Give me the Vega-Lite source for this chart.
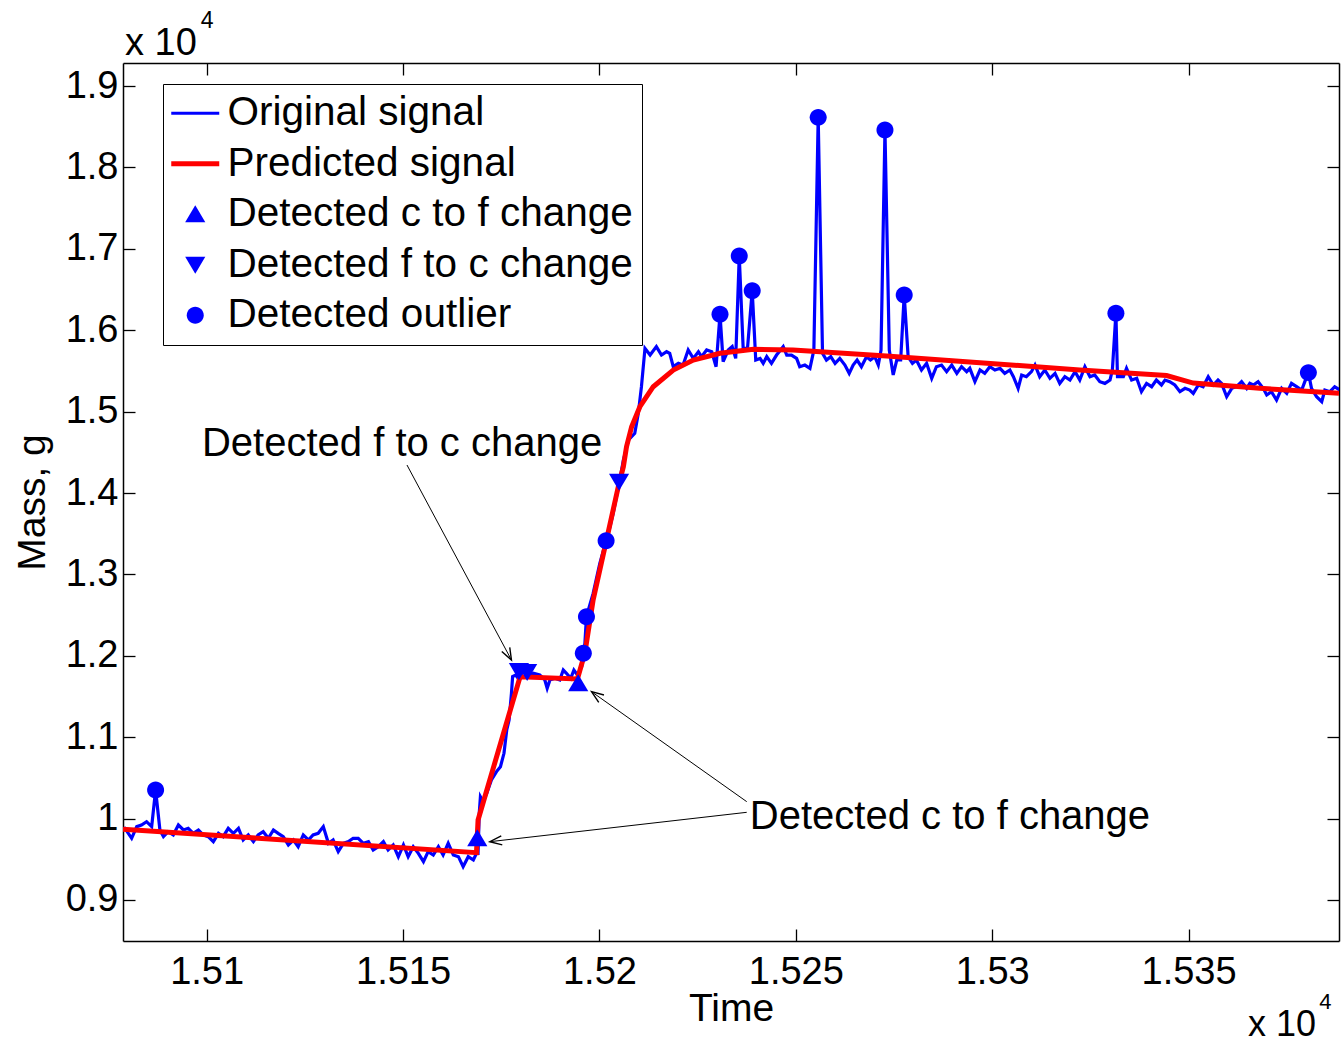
{
  "$schema": "https://vega.github.io/schema/vega-lite/v6.json",
  "width": 1216,
  "height": 878,
  "autosize": {"type": "none"},
  "padding": {"left": 123, "top": 63, "right": 4, "bottom": 104},
  "background": "white",
  "config": {
    "view": {"stroke": null},
    "font": "Liberation Sans",
    "axis": {
      "grid": false,
      "domainColor": "black",
      "domainWidth": 1.5,
      "tickColor": "black",
      "tickWidth": 1.3,
      "tickSize": -12,
      "labelFont": "Liberation Sans",
      "labelFontSize": 38,
      "labelColor": "black",
      "titleFont": "Liberation Sans",
      "titleFontSize": 39,
      "titleColor": "black",
      "titleFontWeight": "normal",
      "labelFlush": false,
      "labelOverlap": false
    },
    "legend": {
      "orient": "none", "legendX": 40, "legendY": 21, "title": null, "direction": "vertical",
      "fillColor": "white", "strokeColor": "black", "padding": 9,
      "labelFont": "Liberation Sans", "labelFontSize": 40.5, "labelColor": "black", "labelLimit": 1000,
      "labelOffset": 12, "symbolOffset": 3, "symbolSize": 2304, "rowPadding": 9.5
    }
  },
  "datasets": {
    "orig": [
      {"t": 15078.0, "m": 9860}, {"t": 15079.2, "m": 9880}, {"t": 15080.9, "m": 9758}, {"t": 15082.2, "m": 9901},
      {"t": 15083.4, "m": 9921}, {"t": 15084.7, "m": 9962}, {"t": 15086.0, "m": 9901}, {"t": 15087.0, "m": 10351},
      {"t": 15088.1, "m": 9860}, {"t": 15089.0, "m": 9778}, {"t": 15090.2, "m": 9839}, {"t": 15091.5, "m": 9799},
      {"t": 15092.8, "m": 9921}, {"t": 15094.1, "m": 9860}, {"t": 15095.3, "m": 9880}, {"t": 15096.6, "m": 9819},
      {"t": 15097.9, "m": 9860}, {"t": 15099.1, "m": 9799}, {"t": 15100.4, "m": 9778}, {"t": 15101.7, "m": 9717},
      {"t": 15103.0, "m": 9819}, {"t": 15104.2, "m": 9778}, {"t": 15105.5, "m": 9880}, {"t": 15106.8, "m": 9819},
      {"t": 15108.1, "m": 9880}, {"t": 15109.3, "m": 9737}, {"t": 15110.6, "m": 9799}, {"t": 15111.9, "m": 9717},
      {"t": 15113.1, "m": 9799}, {"t": 15114.4, "m": 9839}, {"t": 15115.7, "m": 9758}, {"t": 15117.0, "m": 9860},
      {"t": 15118.2, "m": 9819}, {"t": 15119.5, "m": 9778}, {"t": 15120.8, "m": 9676}, {"t": 15122.1, "m": 9737},
      {"t": 15123.3, "m": 9655}, {"t": 15124.6, "m": 9799}, {"t": 15125.9, "m": 9737}, {"t": 15127.1, "m": 9799},
      {"t": 15128.4, "m": 9819}, {"t": 15129.7, "m": 9901}, {"t": 15131.0, "m": 9696}, {"t": 15132.2, "m": 9737},
      {"t": 15133.5, "m": 9594}, {"t": 15134.8, "m": 9696}, {"t": 15136.1, "m": 9717}, {"t": 15137.3, "m": 9758},
      {"t": 15138.6, "m": 9758}, {"t": 15139.9, "m": 9696}, {"t": 15141.2, "m": 9717}, {"t": 15142.4, "m": 9614},
      {"t": 15143.7, "m": 9655}, {"t": 15145.0, "m": 9717}, {"t": 15146.2, "m": 9614}, {"t": 15147.5, "m": 9676},
      {"t": 15148.8, "m": 9532}, {"t": 15150.1, "m": 9676}, {"t": 15151.3, "m": 9532}, {"t": 15152.6, "m": 9655},
      {"t": 15153.9, "m": 9573}, {"t": 15155.2, "m": 9471}, {"t": 15156.4, "m": 9594}, {"t": 15157.7, "m": 9553},
      {"t": 15159.0, "m": 9655}, {"t": 15160.2, "m": 9553}, {"t": 15161.5, "m": 9696}, {"t": 15162.8, "m": 9553},
      {"t": 15164.1, "m": 9532}, {"t": 15165.3, "m": 9409}, {"t": 15166.6, "m": 9532}, {"t": 15167.9, "m": 9491},
      {"t": 15168.7, "m": 9573}, {"t": 15169.1, "m": 9573}, {"t": 15169.4, "m": 10065}, {"t": 15169.7, "m": 10269},
      {"t": 15170.4, "m": 10208}, {"t": 15171.3, "m": 10310}, {"t": 15172.5, "m": 10474}, {"t": 15173.8, "m": 10577},
      {"t": 15174.8, "m": 10638}, {"t": 15175.7, "m": 10802}, {"t": 15176.4, "m": 11089}, {"t": 15177.0, "m": 11211},
      {"t": 15177.6, "m": 11539}, {"t": 15177.9, "m": 11744}, {"t": 15178.7, "m": 11764}, {"t": 15179.6, "m": 11703},
      {"t": 15180.6, "m": 11825}, {"t": 15181.9, "m": 11744}, {"t": 15183.2, "m": 11785}, {"t": 15184.8, "m": 11764},
      {"t": 15186.1, "m": 11703}, {"t": 15186.7, "m": 11600}, {"t": 15187.4, "m": 11703}, {"t": 15188.7, "m": 11723},
      {"t": 15189.9, "m": 11703}, {"t": 15190.8, "m": 11825}, {"t": 15191.6, "m": 11785}, {"t": 15192.7, "m": 11723},
      {"t": 15193.5, "m": 11825}, {"t": 15194.4, "m": 11764}, {"t": 15195.5, "m": 11867}, {"t": 15195.9, "m": 12030},
      {"t": 15196.3, "m": 12153}, {"t": 15196.7, "m": 12481}, {"t": 15198.4, "m": 12767}, {"t": 15200.1, "m": 13136},
      {"t": 15201.7, "m": 13414}, {"t": 15202.7, "m": 13586}, {"t": 15203.5, "m": 13750}, {"t": 15205.1, "m": 14139},
      {"t": 15206.1, "m": 14405}, {"t": 15207.4, "m": 14651}, {"t": 15209.0, "m": 14733}, {"t": 15209.9, "m": 14979},
      {"t": 15210.7, "m": 15306}, {"t": 15211.6, "m": 15777}, {"t": 15212.9, "m": 15695}, {"t": 15214.5, "m": 15798},
      {"t": 15215.8, "m": 15695}, {"t": 15217.1, "m": 15736}, {"t": 15217.9, "m": 15716}, {"t": 15218.8, "m": 15552},
      {"t": 15220.1, "m": 15593}, {"t": 15221.3, "m": 15572}, {"t": 15222.6, "m": 15757}, {"t": 15223.9, "m": 15654},
      {"t": 15225.2, "m": 15736}, {"t": 15226.0, "m": 15675}, {"t": 15227.3, "m": 15757}, {"t": 15228.6, "m": 15736},
      {"t": 15229.7, "m": 15552}, {"t": 15230.7, "m": 16195}, {"t": 15231.5, "m": 15613}, {"t": 15232.8, "m": 15757},
      {"t": 15233.8, "m": 15798}, {"t": 15234.7, "m": 15654}, {"t": 15235.6, "m": 16912}, {"t": 15236.6, "m": 15777},
      {"t": 15237.7, "m": 15777}, {"t": 15238.9, "m": 16486}, {"t": 15239.8, "m": 15634}, {"t": 15240.9, "m": 15654},
      {"t": 15241.7, "m": 15593}, {"t": 15242.6, "m": 15675}, {"t": 15243.8, "m": 15593}, {"t": 15245.1, "m": 15695},
      {"t": 15246.8, "m": 15798}, {"t": 15247.7, "m": 15695}, {"t": 15248.9, "m": 15695}, {"t": 15250.2, "m": 15654},
      {"t": 15251.0, "m": 15552}, {"t": 15252.3, "m": 15572}, {"t": 15253.6, "m": 15531}, {"t": 15254.6, "m": 15757},
      {"t": 15255.7, "m": 18615}, {"t": 15256.8, "m": 15716}, {"t": 15257.8, "m": 15634}, {"t": 15258.9, "m": 15675},
      {"t": 15260.0, "m": 15593}, {"t": 15261.2, "m": 15654}, {"t": 15262.5, "m": 15572}, {"t": 15263.6, "m": 15470},
      {"t": 15264.6, "m": 15572}, {"t": 15265.6, "m": 15634}, {"t": 15266.7, "m": 15552}, {"t": 15268.0, "m": 15675},
      {"t": 15269.0, "m": 15634}, {"t": 15270.1, "m": 15675}, {"t": 15271.0, "m": 15572}, {"t": 15271.7, "m": 15757},
      {"t": 15272.7, "m": 18459}, {"t": 15273.8, "m": 15757}, {"t": 15274.8, "m": 15450}, {"t": 15275.7, "m": 15634},
      {"t": 15276.7, "m": 15634}, {"t": 15277.6, "m": 16432}, {"t": 15278.6, "m": 15675}, {"t": 15279.7, "m": 15593},
      {"t": 15280.7, "m": 15634}, {"t": 15282.0, "m": 15511}, {"t": 15283.3, "m": 15593}, {"t": 15284.6, "m": 15409},
      {"t": 15285.8, "m": 15552}, {"t": 15287.1, "m": 15572}, {"t": 15288.4, "m": 15491}, {"t": 15289.7, "m": 15572},
      {"t": 15291.0, "m": 15470}, {"t": 15292.2, "m": 15552}, {"t": 15293.5, "m": 15491}, {"t": 15294.3, "m": 15532},
      {"t": 15295.6, "m": 15368}, {"t": 15296.9, "m": 15511}, {"t": 15298.1, "m": 15470}, {"t": 15299.4, "m": 15552},
      {"t": 15300.7, "m": 15511}, {"t": 15302.0, "m": 15532}, {"t": 15303.2, "m": 15470}, {"t": 15304.5, "m": 15511},
      {"t": 15305.4, "m": 15429}, {"t": 15306.6, "m": 15286}, {"t": 15307.5, "m": 15450}, {"t": 15308.7, "m": 15429},
      {"t": 15310.0, "m": 15491}, {"t": 15310.9, "m": 15573}, {"t": 15312.1, "m": 15429}, {"t": 15313.4, "m": 15511},
      {"t": 15314.7, "m": 15409}, {"t": 15316.0, "m": 15470}, {"t": 15317.2, "m": 15347}, {"t": 15318.5, "m": 15429},
      {"t": 15319.8, "m": 15388}, {"t": 15321.1, "m": 15491}, {"t": 15322.3, "m": 15388}, {"t": 15323.6, "m": 15552},
      {"t": 15324.9, "m": 15429}, {"t": 15326.1, "m": 15450}, {"t": 15327.4, "m": 15368}, {"t": 15328.7, "m": 15347},
      {"t": 15330.0, "m": 15388}, {"t": 15330.6, "m": 15511}, {"t": 15331.5, "m": 16208}, {"t": 15331.9, "m": 15429},
      {"t": 15333.4, "m": 15429}, {"t": 15334.2, "m": 15532}, {"t": 15335.5, "m": 15388}, {"t": 15336.8, "m": 15409},
      {"t": 15338.0, "m": 15245}, {"t": 15339.3, "m": 15347}, {"t": 15340.6, "m": 15306}, {"t": 15341.8, "m": 15388},
      {"t": 15343.1, "m": 15327}, {"t": 15344.0, "m": 15388}, {"t": 15345.2, "m": 15368}, {"t": 15346.5, "m": 15327},
      {"t": 15347.8, "m": 15245}, {"t": 15349.1, "m": 15286}, {"t": 15350.3, "m": 15265}, {"t": 15351.2, "m": 15224},
      {"t": 15352.5, "m": 15327}, {"t": 15353.7, "m": 15306}, {"t": 15355.0, "m": 15429}, {"t": 15356.3, "m": 15327},
      {"t": 15357.5, "m": 15388}, {"t": 15358.4, "m": 15347}, {"t": 15359.7, "m": 15183}, {"t": 15361.0, "m": 15286},
      {"t": 15362.2, "m": 15306}, {"t": 15363.5, "m": 15368}, {"t": 15364.8, "m": 15286}, {"t": 15365.6, "m": 15347},
      {"t": 15366.5, "m": 15327}, {"t": 15367.7, "m": 15368}, {"t": 15369.0, "m": 15286}, {"t": 15369.9, "m": 15204},
      {"t": 15371.1, "m": 15245}, {"t": 15372.4, "m": 15143}, {"t": 15373.7, "m": 15286}, {"t": 15375.0, "m": 15224},
      {"t": 15376.2, "m": 15347}, {"t": 15377.5, "m": 15306}, {"t": 15378.8, "m": 15265}, {"t": 15379.6, "m": 15368},
      {"t": 15380.5, "m": 15479}, {"t": 15381.3, "m": 15286}, {"t": 15382.6, "m": 15183}, {"t": 15383.9, "m": 15122},
      {"t": 15384.7, "m": 15265}, {"t": 15386.0, "m": 15245}, {"t": 15387.2, "m": 15306}, {"t": 15388.5, "m": 15265}
    ],
    "pred": [
      {"t": 15078.7, "m": 9869}, {"t": 15168.7, "m": 9581}, {"t": 15169.1, "m": 9983}, {"t": 15179.8, "m": 11743},
      {"t": 15194.4, "m": 11715}, {"t": 15196.3, "m": 12034}, {"t": 15198.4, "m": 12686}, {"t": 15201.8, "m": 13423},
      {"t": 15204.8, "m": 14077}, {"t": 15206.1, "m": 14323}, {"t": 15206.9, "m": 14569}, {"t": 15208.2, "m": 14815},
      {"t": 15210.3, "m": 15060}, {"t": 15213.7, "m": 15306}, {"t": 15218.8, "m": 15511}, {"t": 15223.9, "m": 15634},
      {"t": 15230.7, "m": 15716}, {"t": 15239.2, "m": 15765}, {"t": 15249.3, "m": 15757}, {"t": 15273.1, "m": 15683},
      {"t": 15296.9, "m": 15601}, {"t": 15322.3, "m": 15511}, {"t": 15344.4, "m": 15443}, {"t": 15351.2, "m": 15351},
      {"t": 15368.1, "m": 15286}, {"t": 15388.3, "m": 15225}
    ],
    "events": [
      {"t": 15168.9, "m": 9758, "type": "Detected c to f change"},
      {"t": 15194.6, "m": 11661, "type": "Detected c to f change"},
      {"t": 15179.5, "m": 11813, "type": "Detected f to c change"},
      {"t": 15181.6, "m": 11801, "type": "Detected f to c change"},
      {"t": 15205.0, "m": 14139, "type": "Detected f to c change"},
      {"t": 15087.0, "m": 10351, "type": "Detected outlier"},
      {"t": 15195.9, "m": 12030, "type": "Detected outlier"},
      {"t": 15196.7, "m": 12481, "type": "Detected outlier"},
      {"t": 15201.7, "m": 13414, "type": "Detected outlier"},
      {"t": 15230.7, "m": 16195, "type": "Detected outlier"},
      {"t": 15235.6, "m": 16912, "type": "Detected outlier"},
      {"t": 15238.9, "m": 16486, "type": "Detected outlier"},
      {"t": 15255.7, "m": 18615, "type": "Detected outlier"},
      {"t": 15272.7, "m": 18459, "type": "Detected outlier"},
      {"t": 15277.6, "m": 16432, "type": "Detected outlier"},
      {"t": 15331.5, "m": 16208, "type": "Detected outlier"},
      {"t": 15380.5, "m": 15479, "type": "Detected outlier"}
    ]
  },
  "resolve": {"axis": {"x": "independent", "y": "independent"}},
  "layer": [
    {
      "data": {"name": "orig"},
      "mark": {"type": "line", "strokeWidth": 3.2, "clip": true},
      "encoding": {
        "x": {"field": "t", "type": "quantitative",
          "scale": {"domain": [15078.7, 15388.3], "nice": false, "zero": false},
          "axis": {"orient": "bottom", "values": [15100, 15150, 15200, 15250, 15300, 15350],
            "labelExpr": "'' + datum.value / 10000", "title": "Time",
            "labelBaseline": "alphabetic", "labelPadding": 54,
            "titleBaseline": "alphabetic", "titleY": 79}},
        "y": {"field": "m", "type": "quantitative",
          "scale": {"domain": [8496, 19283], "nice": false, "zero": false},
          "axis": {"orient": "left", "values": [9000, 10000, 11000, 12000, 13000, 14000, 15000, 16000, 17000, 18000, 19000],
            "labelExpr": "'' + datum.value / 10000", "title": "Mass, g",
            "labelBaseline": "middle", "labelPadding": 17,
            "titleBaseline": "alphabetic", "titleAngle": -90, "titleX": -79, "titleY": 439}},
        "color": {"datum": "Original signal", "type": "nominal",
          "scale": {"domain": ["Original signal", "Predicted signal", "Detected c to f change", "Detected f to c change", "Detected outlier"],
            "range": ["#0000ff", "#ff0000", "#0000ff", "#0000ff", "#0000ff"]},
          "legend": {"rowPadding": 9.5, "labelOffset": 12, "symbolOffset": 3, "padding": 9, "labelFontSize": 40.5,
            "encode": {"symbols": {"update": {
              "shape": {"scale": "shape", "field": "value"},
              "fill": {"scale": "color", "field": "value"},
              "stroke": {"scale": "color", "field": "value"},
              "opacity": {"value": 1},
              "strokeWidth": {"signal": "datum.value === 'Original signal' ? 3 : datum.value === 'Predicted signal' ? 5 : 0"}}}}}}
      }
    },
    {
      "data": {"name": "pred"},
      "mark": {"type": "line", "strokeWidth": 5, "clip": true},
      "encoding": {
        "x": {"field": "t", "type": "quantitative",
          "axis": {"orient": "top", "values": [15100, 15150, 15200, 15250, 15300, 15350], "labels": false, "title": null}},
        "y": {"field": "m", "type": "quantitative",
          "axis": {"orient": "right", "values": [9000, 10000, 11000, 12000, 13000, 14000, 15000, 16000, 17000, 18000, 19000], "labels": false, "title": null}},
        "color": {"datum": "Predicted signal", "type": "nominal",
          "legend": {"rowPadding": 9.5, "labelOffset": 12, "symbolOffset": 3, "padding": 9, "labelFontSize": 40.5,
            "encode": {"symbols": {"update": {
              "shape": {"scale": "shape", "field": "value"},
              "fill": {"scale": "color", "field": "value"},
              "stroke": {"scale": "color", "field": "value"},
              "opacity": {"value": 1},
              "strokeWidth": {"signal": "datum.value === 'Original signal' ? 3 : datum.value === 'Predicted signal' ? 5 : 0"}}}}}}
      }
    },
    {
      "data": {"name": "events"},
      "mark": {"type": "point", "filled": true, "opacity": 1, "size": 2304, "strokeWidth": 0},
      "encoding": {
        "x": {"field": "t", "type": "quantitative", "axis": null},
        "y": {"field": "m", "type": "quantitative", "axis": null},
        "color": {"field": "type", "type": "nominal",
          "legend": {"rowPadding": 9.5, "labelOffset": 12, "symbolOffset": 3, "padding": 9, "labelFontSize": 40.5,
            "encode": {"symbols": {"update": {
              "shape": {"scale": "shape", "field": "value"},
              "fill": {"scale": "color", "field": "value"},
              "stroke": {"scale": "color", "field": "value"},
              "opacity": {"value": 1},
              "strokeWidth": {"signal": "datum.value === 'Original signal' ? 3 : datum.value === 'Predicted signal' ? 5 : 0"}}}}}},
        "shape": {"field": "type", "type": "nominal",
          "scale": {"domain": ["Original signal", "Predicted signal", "Detected c to f change", "Detected f to c change", "Detected outlier"],
            "range": ["M-1,0L1,0", "M-1,0L1,0", "M-0.42,0.33L0.42,0.33L0,-0.38Z", "M-0.42,-0.33L0.42,-0.33L0,0.38Z", "M-0.354,0A0.354,0.354,0,1,0,0.354,0A0.354,0.354,0,1,0,-0.354,0Z"]},
          "legend": {"rowPadding": 9.5, "labelOffset": 12, "symbolOffset": 3, "padding": 9, "labelFontSize": 40.5,
            "encode": {"symbols": {"update": {
              "shape": {"scale": "shape", "field": "value"},
              "fill": {"scale": "color", "field": "value"},
              "stroke": {"scale": "color", "field": "value"},
              "opacity": {"value": 1},
              "strokeWidth": {"signal": "datum.value === 'Original signal' ? 3 : datum.value === 'Predicted signal' ? 5 : 0"}}}}}}
      }
    },
    {
      "data": {"values": [{}]},
      "mark": {"type": "rule", "color": "black", "strokeWidth": 1},
      "encoding": {
        "x": {"datum": 15151.0, "type": "quantitative", "axis": null},
        "y": {"datum": 14344, "type": "quantitative", "axis": null},
        "x2": {"datum": 15177.6},
        "y2": {"datum": 11948}
      }
    },
    {
      "data": {"values": [{}]},
      "mark": {"type": "rule", "color": "black", "strokeWidth": 1},
      "encoding": {
        "x": {"datum": 15237.5, "type": "quantitative", "axis": null},
        "y": {"datum": 10208, "type": "quantitative", "axis": null},
        "x2": {"datum": 15198.0},
        "y2": {"datum": 11559}
      }
    },
    {
      "data": {"values": [{}]},
      "mark": {"type": "rule", "color": "black", "strokeWidth": 1},
      "encoding": {
        "x": {"datum": 15237.5, "type": "quantitative", "axis": null},
        "y": {"datum": 10077, "type": "quantitative", "axis": null},
        "x2": {"datum": 15172.1},
        "y2": {"datum": 9716}
      }
    },
    {
      "data": {"values": [{}]},
      "mark": {"type": "point", "shape": "M-4.5,12L0,0L4.5,12", "size": 4, "filled": false, "color": "black", "strokeWidth": 1.4, "opacity": 1, "angle": 151.8},
      "encoding": {
        "x": {"datum": 15177.6, "type": "quantitative", "axis": null},
        "y": {"datum": 11948, "type": "quantitative", "axis": null}
      }
    },
    {
      "data": {"values": [{}]},
      "mark": {"type": "point", "shape": "M-4.5,12L0,0L4.5,12", "size": 4, "filled": false, "color": "black", "strokeWidth": 1.4, "opacity": 1, "angle": 305.4},
      "encoding": {
        "x": {"datum": 15198.0, "type": "quantitative", "axis": null},
        "y": {"datum": 11559, "type": "quantitative", "axis": null}
      }
    },
    {
      "data": {"values": [{}]},
      "mark": {"type": "point", "shape": "M-4.5,12L0,0L4.5,12", "size": 4, "filled": false, "color": "black", "strokeWidth": 1.4, "opacity": 1, "angle": 263.5},
      "encoding": {
        "x": {"datum": 15172.1, "type": "quantitative", "axis": null},
        "y": {"datum": 9716, "type": "quantitative", "axis": null}
      }
    },
    {
      "data": {"values": [{}]},
      "mark": {"type": "text", "text": "Detected f to c change", "font": "Liberation Sans", "fontSize": 40, "color": "black", "align": "left", "baseline": "alphabetic"},
      "encoding": {
        "x": {"datum": 15098.8, "type": "quantitative", "axis": null},
        "y": {"datum": 14455, "type": "quantitative", "axis": null}
      }
    },
    {
      "data": {"values": [{}]},
      "mark": {"type": "text", "text": "Detected c to f change", "font": "Liberation Sans", "fontSize": 40, "color": "black", "align": "left", "baseline": "alphabetic"},
      "encoding": {
        "x": {"datum": 15238.3, "type": "quantitative", "axis": null},
        "y": {"datum": 9872, "type": "quantitative", "axis": null}
      }
    },
    {
      "data": {"values": [{}]},
      "mark": {"type": "text", "text": "x 10", "font": "Liberation Sans", "fontSize": 38, "color": "black", "align": "left", "baseline": "alphabetic"},
      "encoding": {
        "x": {"datum": 15079.2, "type": "quantitative", "axis": null},
        "y": {"datum": 19381, "type": "quantitative", "axis": null}
      }
    },
    {
      "data": {"values": [{}]},
      "mark": {"type": "text", "text": "4", "font": "Liberation Sans", "fontSize": 23, "color": "black", "align": "left", "baseline": "alphabetic"},
      "encoding": {
        "x": {"datum": 15098.5, "type": "quantitative", "axis": null},
        "y": {"datum": 19713, "type": "quantitative", "axis": null}
      }
    },
    {
      "data": {"values": [{}]},
      "mark": {"type": "text", "text": "x 10", "font": "Liberation Sans", "fontSize": 36, "color": "black", "align": "left", "baseline": "alphabetic"},
      "encoding": {
        "x": {"datum": 15365.1, "type": "quantitative", "axis": null},
        "y": {"datum": 7330, "type": "quantitative", "axis": null}
      }
    },
    {
      "data": {"values": [{}]},
      "mark": {"type": "text", "text": "4", "font": "Liberation Sans", "fontSize": 22, "color": "black", "align": "left", "baseline": "alphabetic"},
      "encoding": {
        "x": {"datum": 15383.3, "type": "quantitative", "axis": null},
        "y": {"datum": 7660, "type": "quantitative", "axis": null}
      }
    }
  ]
}
